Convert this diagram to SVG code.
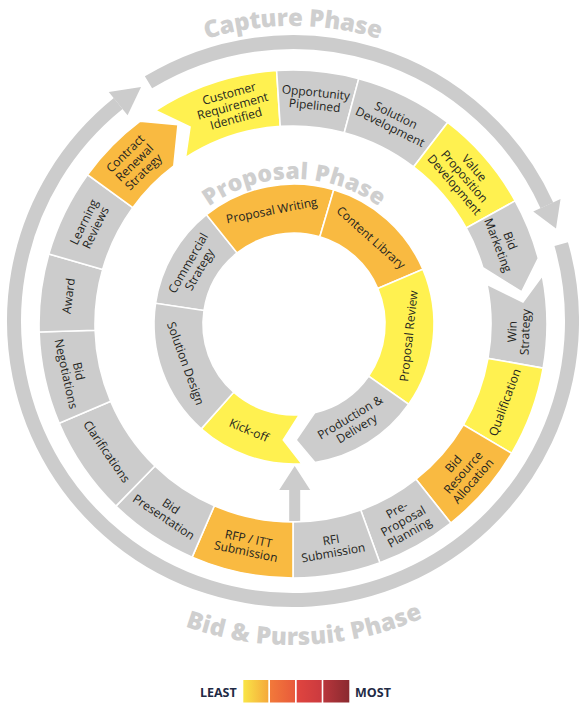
<svg xmlns="http://www.w3.org/2000/svg" width="579" height="704" viewBox="0 0 579 704">
<style>
.seg{stroke:#fff;stroke-width:1.6;stroke-linejoin:miter}
.y{fill:#fff150}
.o{fill:#f9ba41}
.g{fill:#cccccc}
.lbl{font-family:"Open Sans","Liberation Sans",sans-serif;font-size:12px;fill:#231f20;text-anchor:middle}
.phase{font-family:"Open Sans","Liberation Sans",sans-serif;font-weight:800;font-size:24px;fill:#cfcfcf;text-anchor:middle}
.band{fill:none;stroke:#cccccc;stroke-width:14}
.arr{fill:#cccccc}
.leg{font-family:"Open Sans","Liberation Sans",sans-serif;font-weight:700;font-size:12.5px;fill:#1f2b45;text-anchor:middle}
</style>
<defs>
<path id="capArc" d="M37.52,173.5 A295,295 0 0 1 548.48,173.5"/>
<path id="propArc" d="M151.2,298.82 A145,145 0 0 1 436.8,298.82"/>
<path id="bidArc" d="M12.4,483 A324,324 0 0 0 573.6,483"/>
<linearGradient id="lg1"><stop offset="0" stop-color="#f9e547"/><stop offset="1" stop-color="#f5a93b"/></linearGradient>
<linearGradient id="lg2"><stop offset="0" stop-color="#f2793a"/><stop offset="1" stop-color="#e85a3b"/></linearGradient>
<linearGradient id="lg3"><stop offset="0" stop-color="#e0453f"/><stop offset="1" stop-color="#cb3a3f"/></linearGradient>
<linearGradient id="lg4"><stop offset="0" stop-color="#b8363c"/><stop offset="1" stop-color="#8a2a2f"/></linearGradient>
</defs>

<!-- phase titles -->
<text class="phase"><textPath href="#capArc" startOffset="50%" textLength="176">Capture Phase</textPath></text>
<text class="phase" style="font-size:23px"><textPath href="#propArc" startOffset="50%" textLength="182">Proposal Phase</textPath></text>
<text class="phase"><textPath href="#bidArc" startOffset="51.75%" textLength="244">Bid &amp; Pursuit Phase</textPath></text>

<!-- connectors -->
<g id="connectors">
<path class="band" d="M148.48,82.34 A279,279 0 0 1 546.89,205.3"/>
<polygon class="arr" points="533.24,211.52 560.54,199.08 556,228.5"/>
<path class="band" d="M561.2,244.1 A279,279 0 1 1 118.18,103.58"/>
<polygon class="arr" points="127.58,115.26 108.78,91.89 141.06,87"/>
<polygon class="arr" points="289.2,521 289.2,490 279.2,490 294.7,466 310.2,490 300.2,490 300.2,521"/>
</g>

<!-- outer ring -->
<g id="customer-requirement-identified"><path class="seg y" d="M155.41,110.49 A254,254 0 0 1 276.61,70.53 L280.23,126.42 A198,198 0 0 0 185.45,157.76 L190,127 Z"/>
<text class="lbl" transform="translate(232.61,106.23) rotate(-15.5)"><tspan x="0" y="-9">Customer</tspan><tspan x="0" y="4">Requirement</tspan><tspan x="0" y="17">Identified</tspan></text></g>
<g id="opportunity-pipelined"><path class="seg g" d="M276.61,70.53 A254,254 0 0 1 358.74,78.66 L344.24,132.75 A198,198 0 0 0 280.23,126.42 Z"/>
<text class="lbl" transform="translate(315.26,99.11) rotate(5.65)"><tspan x="0" y="-2.5">Opportunity</tspan><tspan x="0" y="10.5">Pipelined</tspan></text></g>
<g id="solution-development"><path class="seg g" d="M358.74,78.66 A254,254 0 0 1 447.64,122.48 L413.54,166.91 A198,198 0 0 0 344.24,132.75 Z"/>
<text class="lbl" transform="translate(392.96,121.3) rotate(26.25)"><tspan x="0" y="-2.5">Solution</tspan><tspan x="0" y="10.5">Development</tspan></text></g>
<g id="value-proposition-development"><path class="seg y" d="M447.64,122.48 A254,254 0 0 1 515.15,200.86 L466.17,228.01 A198,198 0 0 0 413.54,166.91 Z"/>
<text class="lbl" transform="translate(464.22,176.47) rotate(49.25)"><tspan x="0" y="-9">Value</tspan><tspan x="0" y="4">Proposition</tspan><tspan x="0" y="17">Development</tspan></text></g>
<g id="bid-marketing"><path class="seg g" d="M515.15,200.86 A254,254 0 0 1 538.34,258.26 L521.76,291.85 L482.84,267.77 A198,198 0 0 0 466.17,228.01 Z"/>
<text class="lbl" transform="translate(503.99,243) rotate(69)"><tspan x="0" y="-2.5">Bid</tspan><tspan x="0" y="10.5">Marketing</tspan></text></g>
<g id="win-strategy"><path class="seg g" d="M542.33,275.54 A254,254 0 0 1 543.14,368.09 L487.99,358.37 A198,198 0 0 0 486.96,284.18 L522.94,301.87 Z"/>
<text class="lbl" transform="translate(518.86,331.89) rotate(-88)"><tspan x="0" y="-2.5">Win</tspan><tspan x="0" y="10.5">Strategy</tspan></text></g>
<g id="qualification"><path class="seg y" d="M543.14,368.09 A254,254 0 0 1 511.62,453.29 L463.42,424.78 A198,198 0 0 0 487.99,358.37 Z"/>
<text class="lbl" transform="translate(504.97,402.4) rotate(-69.7)"><tspan x="0" y="4">Qualification</tspan></text></g>
<g id="bid-resource-allocation"><path class="seg o" d="M511.62,453.29 A254,254 0 0 1 450.76,523.06 L415.98,479.17 A198,198 0 0 0 463.42,424.78 Z"/>
<text class="lbl" transform="translate(463.31,472.57) rotate(-48.9)"><tspan x="0" y="-9">Bid</tspan><tspan x="0" y="4">Resource</tspan><tspan x="0" y="17">Allocation</tspan></text></g>
<g id="pre-proposal-planning"><path class="seg g" d="M450.76,523.06 A254,254 0 0 1 379.87,562.68 L360.72,510.06 A198,198 0 0 0 415.98,479.17 Z"/>
<text class="lbl" transform="translate(403.27,521.28) rotate(-29.2)"><tspan x="0" y="-9">Pre-</tspan><tspan x="0" y="4">Proposal</tspan><tspan x="0" y="17">Planning</tspan></text></g>
<g id="rfi-submission"><path class="seg g" d="M379.87,562.68 A254,254 0 0 1 293,578 L293,522 A198,198 0 0 0 360.72,510.06 Z"/>
<text class="lbl" transform="translate(332.23,546.56) rotate(-10)"><tspan x="0" y="-2.5">RFI</tspan><tspan x="0" y="10.5">Submission</tspan></text></g>
<g id="rfp-itt-submission"><path class="seg o" d="M293,578 A254,254 0 0 1 192.14,557.12 L214.37,505.72 A198,198 0 0 0 293,522 Z"/>
<text class="lbl" transform="translate(247.17,545.3) rotate(11.7)"><tspan x="0" y="-2.5">RFP / ITT</tspan><tspan x="0" y="10.5">Submission</tspan></text></g>
<g id="bid-presentation"><path class="seg g" d="M192.14,557.12 A254,254 0 0 1 115.91,506.09 L154.95,465.95 A198,198 0 0 0 214.37,505.72 Z"/>
<text class="lbl" transform="translate(167.28,511.81) rotate(33.8)"><tspan x="0" y="-2.5">Bid</tspan><tspan x="0" y="10.5">Presentation</tspan></text></g>
<g id="clarifications"><path class="seg g" d="M115.91,506.09 A254,254 0 0 1 59.19,423.24 L110.74,401.36 A198,198 0 0 0 154.95,465.95 Z"/>
<text class="lbl" transform="translate(106.53,451.69) rotate(55.6)"><tspan x="0" y="4">Clarifications</tspan></text></g>
<g id="bid-negotiations"><path class="seg g" d="M59.19,423.24 A254,254 0 0 1 39.13,331.98 L95.1,330.22 A198,198 0 0 0 110.74,401.36 Z"/>
<text class="lbl" transform="translate(72.27,372.52) rotate(77.6)"><tspan x="0" y="-2.5">Bid</tspan><tspan x="0" y="10.5">Negotiations</tspan></text></g>
<g id="award"><path class="seg g" d="M39.13,331.98 A254,254 0 0 1 48.83,254 L102.66,269.43 A198,198 0 0 0 95.1,330.22 Z"/>
<text class="lbl" transform="translate(68.74,296.07) rotate(-82.9)"><tspan x="0" y="4">Award</tspan></text></g>
<g id="learning-reviews"><path class="seg g" d="M48.83,254 A254,254 0 0 1 87.51,174.7 L132.82,207.62 A198,198 0 0 0 102.66,269.43 Z"/>
<text class="lbl" transform="translate(89.87,224.92) rotate(-64)"><tspan x="0" y="-2.5">Learning</tspan><tspan x="0" y="10.5">Reviews</tspan></text></g>
<g id="contract-renewal-strategy"><path class="seg o" d="M87.51,174.7 A254,254 0 0 1 140.14,121.16 L178,124.81 L173.84,165.88 A198,198 0 0 0 132.82,207.62 Z"/>
<text class="lbl" transform="translate(134.6,162.79) rotate(-44.5)"><tspan x="0" y="-9">Contract</tspan><tspan x="0" y="4">Renewal</tspan><tspan x="0" y="17">Strategy</tspan></text></g>

<!-- inner ring -->
<g id="commercial-strategy"><path class="seg g" d="M155.54,303.31 A140,140 0 0 1 206.47,214.74 L237.11,252.98 A91,91 0 0 0 204,310.55 Z"/>
<text class="lbl" transform="translate(193.87,266.42) rotate(-60.1)"><tspan x="0" y="-2.5">Commercial</tspan><tspan x="0" y="10.5">Strategy</tspan></text></g>
<g id="proposal-writing"><path class="seg o" d="M206.47,214.74 A140,140 0 0 1 333.76,189.77 L319.84,236.75 A91,91 0 0 0 237.11,252.98 Z"/>
<text class="lbl" transform="translate(271.77,210.66) rotate(-11.1)"><tspan x="0" y="4">Proposal Writing</tspan></text></g>
<g id="content-library"><path class="seg o" d="M333.76,189.77 A140,140 0 0 1 422.87,269.3 L377.77,288.45 A91,91 0 0 0 319.84,236.75 Z"/>
<text class="lbl" transform="translate(370.91,237.83) rotate(41.75)"><tspan x="0" y="4">Content Library</tspan></text></g>
<g id="proposal-review"><path class="seg y" d="M422.87,269.3 A140,140 0 0 1 408.69,404.3 L368.55,376.2 A91,91 0 0 0 377.77,288.45 Z"/>
<text class="lbl" transform="translate(408.87,336.07) rotate(-84)"><tspan x="0" y="4">Proposal Review</tspan></text></g>
<g id="production-delivery"><path class="seg g" d="M408.69,404.3 A140,140 0 0 1 314.93,462.43 L296,440 L314.78,412.6 A91,91 0 0 0 368.55,376.2 Z"/>
<text class="lbl" transform="translate(353.48,423) rotate(-31)"><tspan x="0" y="-2.5">Production &amp;</tspan><tspan x="0" y="10.5">Delivery</tspan></text></g>
<g id="kick-off"><path class="seg y" d="M301.81,463.78 A140,140 0 0 1 201.24,428.86 L233.7,392.16 A91,91 0 0 0 299.24,414.85 L283.3,440 Z"/>
<text class="lbl" transform="translate(248.87,430.32) rotate(23)"><tspan x="0" y="4">Kick-off</tspan></text></g>
<g id="solution-design"><path class="seg g" d="M201.24,428.86 A140,140 0 0 1 155.54,303.31 L204,310.55 A91,91 0 0 0 233.7,392.16 Z"/>
<text class="lbl" transform="translate(185.46,363.5) rotate(70)"><tspan x="0" y="4">Solution Design</tspan></text></g>

<!-- legend -->
<g id="legend">
<text class="leg" x="218.3" y="697">LEAST</text>
<rect x="243.3" y="680" width="25" height="22.5" fill="url(#lg1)"/>
<rect x="270" y="680" width="25" height="22.5" fill="url(#lg2)"/>
<rect x="296.7" y="680" width="25" height="22.5" fill="url(#lg3)"/>
<rect x="323.3" y="680" width="26" height="22.5" fill="url(#lg4)"/>
<text class="leg" x="373" y="697">MOST</text>
</g>
</svg>
